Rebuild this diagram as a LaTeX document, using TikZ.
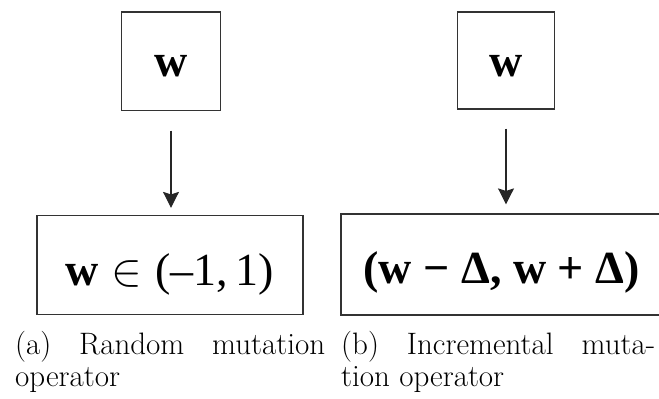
\documentclass[tikz,border=0pt]{standalone}
\usepackage{fix-cm}
\usepackage{fontspec}
\newfontfamily\boxfont{Liberation Serif}
\usetikzlibrary{arrows.meta}
\tikzset{
  framebox/.style={draw=black!80, line width=1.2pt, inner sep=0pt, text depth=0pt, font=\boxfont\bfseries\fontsize{46}{52}\selectfont},
  conn/.style={line width=1.2pt, black!85, -{Stealth[width=16pt,length=16pt,inset=2.5pt]}},
  captext/.style={anchor=base west, inner sep=0pt, font=\fontsize{31}{37}\selectfont}
}
\begin{document}
\begin{tikzpicture}[x=1pt,y=-1pt]
\useasboundingbox (0,0) rectangle (659,399);
\clip (0,0) rectangle (659,399);
% left
\node[framebox, minimum width=99pt, minimum height=98.5pt, text height=31pt] (ta) at (171,61.3) {w};
\node[framebox, minimum width=266pt, minimum height=99pt, text height=40pt] (ba) at (170,265) {w\;$\in$\;{\mdseries(\char"2013 1,\,1)}};
\draw[conn, shorten <=19.5pt, shorten >=7pt] (ta.south) -- (ta.south |- ba.north);
% right
\node[framebox, minimum width=97.5pt, minimum height=97pt, text height=31pt] (tb) at (506,60.5) {w};
\node[framebox, minimum width=321pt, minimum height=101pt, text height=37pt] (bb) at (501.5,264.5) {(w \char"2212{} \char"0394, w + \char"0394)};
\draw[conn, shorten <=19pt, shorten >=9pt] (tb.south) -- (tb.south |- bb.north);
% captions
\node[captext] (ca1) at (15,354) {\hbox to 310pt{(a)\hfill Random\hfill mutation}};
\node[captext] (ca2) at (15,386) {operator};
\node[captext] (cb1) at (341,354) {\hbox to 314pt{(b)\hfill Incremental\hfill muta-}};
\node[captext] (cb2) at (341,386) {tion operator};
\end{tikzpicture}
\end{document}
